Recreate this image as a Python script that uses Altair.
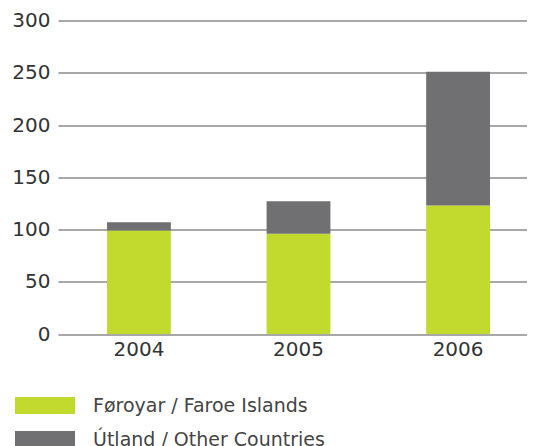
import altair as alt
import pandas as pd

years = ["2004", "2005", "2006"]
series = ["Føroyar / Faroe Islands", "Útland / Other Countries"]
faroe = [99, 96, 123]
other = [8, 31, 128]
colors = ["#c2d92d", "#707072"]

rows = []
for i, y in enumerate(years):
    rows.append({"year": y, "series": series[0], "value": faroe[i], "idx": 0})
    rows.append({"year": y, "series": series[1], "value": other[i], "idx": 1})
df = pd.DataFrame(rows)

chart = alt.Chart(df).mark_bar().encode(
    x=alt.X("year:N", title=None,
            scale=alt.Scale(paddingInner=0.6, paddingOuter=0.307),
            axis=alt.Axis(labelAngle=0, ticks=False, domain=False, labelPadding=5,
                          labelFont="DejaVu Sans", labelFontSize=20, labelColor="#333333")),
    y=alt.Y("value:Q", title=None, stack="zero",
            scale=alt.Scale(domain=[0, 300], nice=False),
            axis=alt.Axis(values=[0, 50, 100, 150, 200, 250, 300], ticks=False, domain=False,
                          labelPadding=8, labelFont="DejaVu Sans", labelFontSize=20,
                          labelColor="#333333", gridColor="#a8a8a8", gridWidth=2)),
    color=alt.Color("series:N", scale=alt.Scale(domain=series, range=colors),
                    legend=alt.Legend(title=None, orient="none", legendX=-43, legendY=368,
                                      symbolType="M-1.765,-0.5H1.765V0.5H-1.765Z",
                                      symbolSize=1156, symbolStrokeWidth=0, symbolOpacity=1,
                                      symbolOffset=13, labelOffset=31, padding=0, rowPadding=7,
                                      labelFont="DejaVu Sans", labelFontSize=19,
                                      labelColor="#444444", labelLimit=400)),
    order=alt.Order("idx:Q", sort="ascending"),
).properties(
    width=481, height=313.5,
    autosize=alt.AutoSizeParams(type="none"),
    padding={"left": 50, "top": 12.5, "right": -12, "bottom": 112},
).configure_view(stroke=None)

chart.save("out.html", embed_options={"renderer": "svg", "actions": False})
